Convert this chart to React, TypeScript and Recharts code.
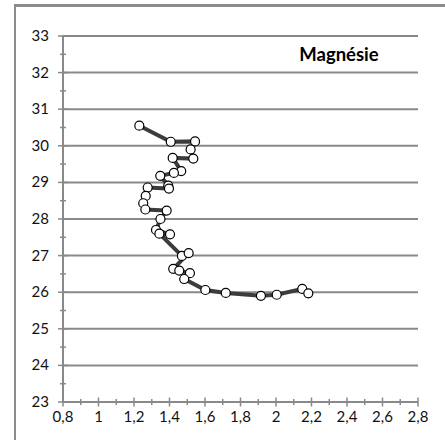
import { ScatterChart, Scatter, XAxis, YAxis, ReferenceLine } from "recharts";

// Magnésie profile, points in drawing order
const mgValues = [
  1.23, 1.407, 1.544, 1.519, 1.534, 1.418, 1.466, 1.425, 1.348, 1.393, 1.397,
  1.277, 1.266, 1.252, 1.264, 1.384, 1.349, 1.324, 1.403, 1.343, 1.47, 1.508,
  1.421, 1.455, 1.515, 1.483, 1.602, 1.717, 1.915, 2.004, 2.148, 2.182,
];
const depthValues = [
  30.55, 30.11, 30.12, 29.9, 29.65, 29.67, 29.31, 29.26, 29.18, 28.91, 28.83,
  28.86, 28.63, 28.43, 28.26, 28.23, 28.0, 27.7, 27.58, 27.6, 26.99, 27.07,
  26.64, 26.59, 26.52, 26.36, 26.06, 25.98, 25.9, 25.93, 26.09, 25.97,
];

const xTicks = [
  0.8, 0.9, 1, 1.1, 1.2, 1.3, 1.4, 1.5, 1.6, 1.7, 1.8, 1.9, 2, 2.1, 2.2, 2.3,
  2.4, 2.5, 2.6, 2.7, 2.8,
];
const yTicks = [
  23, 23.5, 24, 24.5, 25, 25.5, 26, 26.5, 27, 27.5, 28, 28.5, 29, 29.5, 30,
  30.5, 31, 31.5, 32, 32.5, 33,
];
const gridValues = [24, 25, 26, 27, 28, 29, 30, 31, 32, 33];
const title = "Magnésie";

const data = mgValues.map((x, i) => ({ x, y: depthValues[i] }));

const AXIS = "#898989";
const FONT = "Lato, 'Open Sans', sans-serif";

function XTick({ x, y, payload }: any) {
  const v = payload.value as number;
  const major = Math.round(v * 10) % 2 === 0;
  const h = major ? 4.5 : 3;
  return (
    <g>
      <line x1={x} x2={x} y1={y - h} y2={y + h} stroke={AXIS} strokeWidth={1.5} />
      {major && (
        <text x={x} y={y + 20} textAnchor="middle" fontSize={15} fontFamily={FONT} fill="#111">
          {String(v).replace(".", ",")}
        </text>
      )}
    </g>
  );
}

function YTick({ x, y, payload }: any) {
  const v = payload.value as number;
  const major = Number.isInteger(v);
  const h = major ? 5 : 3;
  return (
    <g>
      <line x1={x - h} x2={x + h} y1={y} y2={y} stroke={AXIS} strokeWidth={1.5} />
      {major && (
        <text x={x - 14} y={y + 5} textAnchor="end" fontSize={15} fontFamily={FONT} fill="#111">
          {v}
        </text>
      )}
    </g>
  );
}

function Dot(props: any) {
  return <circle cx={props.cx} cy={props.cy} r={4.5} fill="#fff" stroke="#000" strokeWidth={1.2} />;
}

export default function App() {
  return (
    <div style={{ position: "absolute", left: 0, top: 0, width: 445, height: 440, background: "#fff" }}>
      <div
        style={{
          position: "absolute",
          left: 14,
          top: 4,
          width: 431,
          height: 436,
          borderLeft: "2px solid #8c8c8c",
          borderTop: "3px solid #8c8c8c",
          boxSizing: "border-box",
        }}
      />
      <div style={{ position: "absolute", left: 0, top: 0 }}>
        <ScatterChart width={445} height={440} margin={{ top: 36, right: 27, bottom: 0, left: 0 }}>
          {gridValues.map((g) => (
            <ReferenceLine key={g} y={g} stroke={AXIS} strokeWidth={2} />
          ))}
          <XAxis
            type="number"
            dataKey="x"
            domain={[0.8, 2.8]}
            ticks={xTicks}
            interval={0}
            height={38}
            tickSize={0}
            tickMargin={0}
            tickLine={false}
            axisLine={{ stroke: AXIS, strokeWidth: 2 }}
            tick={<XTick />}
          />
          <YAxis
            type="number"
            dataKey="y"
            domain={[23, 33]}
            ticks={yTicks}
            interval={0}
            width={63}
            tickSize={0}
            tickMargin={0}
            tickLine={false}
            axisLine={{ stroke: AXIS, strokeWidth: 2 }}
            tick={<YTick />}
          />
          <Scatter
            data={data}
            line={{ stroke: "#3c3c3c", strokeWidth: 4 }}
            shape={<Dot />}
            isAnimationActive={false}
          />
        </ScatterChart>
      </div>
      <svg width={445} height={440} style={{ position: "absolute", left: 0, top: 0, pointerEvents: "none" }}>
        <text x={339} y={61} textAnchor="middle" fontSize={18.5} fontWeight="bold" fontFamily={FONT} fill="#000">
          {title}
        </text>
      </svg>
    </div>
  );
}
